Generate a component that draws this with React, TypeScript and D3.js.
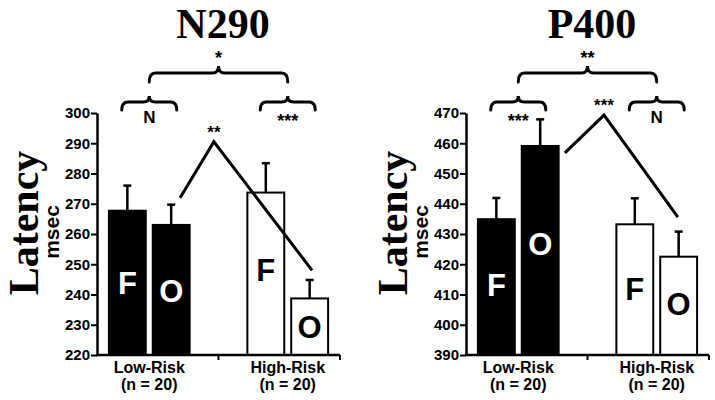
import React, { useEffect, useRef } from "react";
import * as d3 from "d3";

// groups and conditions
const groups = ["Low-Risk", "High-Risk"];
const groupN = ["(n = 20)", "(n = 20)"];
const conditions = ["F", "O"];

// N290 latency (msec), [group][condition]
const n290Means = [[267.7, 263.0], [273.7, 238.7]];
const n290Errors = [[8.3, 6.7], [9.7, 6.1]];
const n290Ticks = [220, 230, 240, 250, 260, 270, 280, 290, 300];
const n290LetterAt = [[240.2, 237.5], [244.5, 225.6]];
const n290LineAt = [0.342, 0.481, 0.885];
const n290LineV = [272, 290.5, 248];
// top, low, high, interaction
const n290Sig = ["*", "N", "***", "**"];

// P400 latency (msec)
const p400Means = [[434.9, 459.1], [433.2, 422.5]];
const p400Errors = [[7.0, 8.8], [8.6, 8.3]];
const p400Ticks = [390, 400, 410, 420, 430, 440, 450, 460, 470];
const p400LetterAt = [[409.5, 423.0], [408.2, 403.2]];
const p400LineAt = [0.407, 0.568, 0.872];
const p400LineV = [456.8, 469.3, 435.6];
const p400Sig = ["**", "***", "N", "***"];

const SANS = "'Liberation Sans', Arial, sans-serif";
const SERIF = "'Liberation Serif', 'Times New Roman', serif";

function brace(x1: number, x2: number, yEnd: number, yMid: number, yTop: number) {
  const xm = (x1 + x2) / 2;
  const r = 6;
  return `M${x1},${yEnd} Q${x1},${yMid} ${x1 + r},${yMid} L${xm - r},${yMid} Q${xm},${yMid} ${xm},${yTop} Q${xm},${yMid} ${xm + r},${yMid} L${x2 - r},${yMid} Q${x2},${yMid} ${x2},${yEnd}`;
}

function drawPanel(svg: any, x0: number, title: string, means: number[][], errors: number[][],
  ticks: number[], letterAt: number[][], lineAt: number[], lineV: number[], sig: string[]) {
  const W = 243;
  const top = 113, bottom = 355;
  const g = svg.append("g");

  const y = d3.scaleLinear().domain([ticks[0], ticks[ticks.length - 1]]).range([bottom, top]);
  const xg = d3.scaleBand().domain(groups).range([x0, x0 + W]).paddingInner(0.417).paddingOuter(0.086);
  const xc = d3.scaleBand().domain(conditions).range([0, xg.bandwidth()]).paddingInner(0.159).paddingOuter(0);
  const xl = d3.scaleLinear().domain([0, 1]).range([x0, x0 + W]);

  // title
  g.append("text").attr("x", x0 + 126).attr("y", 38).attr("text-anchor", "middle")
    .style("font-family", SERIF).style("font-weight", "bold").style("font-size", "42px").text(title);

  // y labels
  g.append("text").attr("transform", `translate(${x0 - 59.5},223) rotate(-90)`).attr("text-anchor", "middle")
    .style("font-family", SERIF).style("font-weight", "bold").style("font-size", "42px").text("Latency");
  g.append("text").attr("transform", `translate(${x0 - 38.5},232) rotate(-90)`).attr("text-anchor", "middle")
    .style("font-family", SANS).style("font-weight", "bold").style("font-size", "21px").text("msec");

  // bars
  groups.forEach((grp, gi) => {
    conditions.forEach((c, ci) => {
      const bx = (xg(grp) as number) + (xc(c) as number);
      const bw = xc.bandwidth();
      const cx = bx + bw / 2;
      const v = means[gi][ci];
      const e = errors[gi][ci];
      // error bar
      g.append("line").attr("x1", cx).attr("x2", cx).attr("y1", y(v)).attr("y2", y(v + e))
        .attr("stroke", "black").attr("stroke-width", 2.5);
      g.append("line").attr("x1", cx - 4).attr("x2", cx + 4).attr("y1", y(v + e)).attr("y2", y(v + e))
        .attr("stroke", "black").attr("stroke-width", 2.5);
      g.append("rect").attr("x", bx).attr("y", y(v)).attr("width", bw).attr("height", bottom - y(v))
        .attr("fill", gi === 0 ? "black" : "white").attr("stroke", "black").attr("stroke-width", 2);
      g.append("text").attr("x", cx).attr("y", y(letterAt[gi][ci])).attr("text-anchor", "middle")
        .style("font-family", SANS).style("font-weight", "bold").style("font-size", "31px")
        .attr("fill", gi === 0 ? "white" : "black").text(c);
    });
    const gc = (xg(grp) as number) + xg.bandwidth() / 2;
    g.append("text").attr("x", gc).attr("y", 373).attr("text-anchor", "middle")
      .style("font-family", SANS).style("font-weight", "bold").style("font-size", "16px").text(grp);
    g.append("text").attr("x", gc).attr("y", 390).attr("text-anchor", "middle")
      .style("font-family", SANS).style("font-weight", "bold").style("font-size", "16px").text(groupN[gi]);
  });

  // y axis
  const yAxis = d3.axisLeft(y).tickValues(ticks).tickSize(6).tickSizeOuter(0).tickPadding(1);
  const ya = g.append("g").attr("transform", `translate(${x0},0)`).call(yAxis);
  ya.select(".domain").attr("stroke-width", 2.5);
  ya.selectAll(".tick line").attr("stroke-width", 2);
  ya.selectAll(".tick text").style("font-family", SANS).style("font-weight", "bold").style("font-size", "15px").attr("fill", "black");

  // x axis
  g.append("line").attr("x1", x0 - 1).attr("x2", x0 + W).attr("y1", bottom).attr("y2", bottom)
    .attr("stroke", "black").attr("stroke-width", 2.5);
  const mid = ((xg(groups[0]) as number) + xg.bandwidth() + (xg(groups[1]) as number)) / 2;
  [mid, x0 + W].forEach((tx) => {
    g.append("line").attr("x1", tx).attr("x2", tx).attr("y1", bottom).attr("y2", bottom + 5)
      .attr("stroke", "black").attr("stroke-width", 2);
  });

  // interaction line
  const pts: [number, number][] = lineAt.map((f, i) => [xl(f), y(lineV[i])]);
  g.append("path").attr("d", d3.line()(pts)).attr("fill", "none").attr("stroke", "black").attr("stroke-width", 3);
  g.append("text").attr("x", pts[1][0]).attr("y", pts[1][1] - 4).attr("text-anchor", "middle")
    .style("font-family", SANS).style("font-weight", "bold").style("font-size", "17px").text(sig[3]);

  // braces
  const c0 = (xg(groups[0]) as number) + xg.bandwidth() / 2;
  const c1 = (xg(groups[1]) as number) + xg.bandwidth() / 2;
  const braceStyle = (p: any) => p.attr("fill", "none").attr("stroke", "black").attr("stroke-width", 3).attr("stroke-linecap", "round");
  g.append("path").attr("d", brace(c0, c1, 82, 73, 66)).call(braceStyle);
  g.append("text").attr("x", (c0 + c1) / 2).attr("y", 64).attr("text-anchor", "middle")
    .style("font-family", SANS).style("font-weight", "bold").style("font-size", "18px").text(sig[0]);
  [c0, c1].forEach((cc, i) => {
    g.append("path").attr("d", brace(cc - 27.5, cc + 27.5, 110, 102, 96)).call(braceStyle);
    const s = sig[1 + i];
    const isN = s === "N";
    g.append("text").attr("x", cc).attr("y", isN ? 123 : 127).attr("text-anchor", "middle")
      .style("font-family", SANS).style("font-weight", "bold").style("font-size", isN ? "17px" : "18px").text(s);
  });
}

export default function App() {
  const svgRef = useRef<SVGSVGElement>(null);

  useEffect(() => {
    document.body.style.margin = "0";
    const svg = d3.select(svgRef.current);
    svg.selectAll("*").remove();
    drawPanel(svg, 97, "N290", n290Means, n290Errors, n290Ticks, n290LetterAt, n290LineAt, n290LineV, n290Sig);
    drawPanel(svg, 466, "P400", p400Means, p400Errors, p400Ticks, p400LetterAt, p400LineAt, p400LineV, p400Sig);
  }, []);

  return (
    <div>
      <svg ref={svgRef} width={715} height={400} style={{ display: "block", background: "white" }}></svg>
    </div>
  );
}
